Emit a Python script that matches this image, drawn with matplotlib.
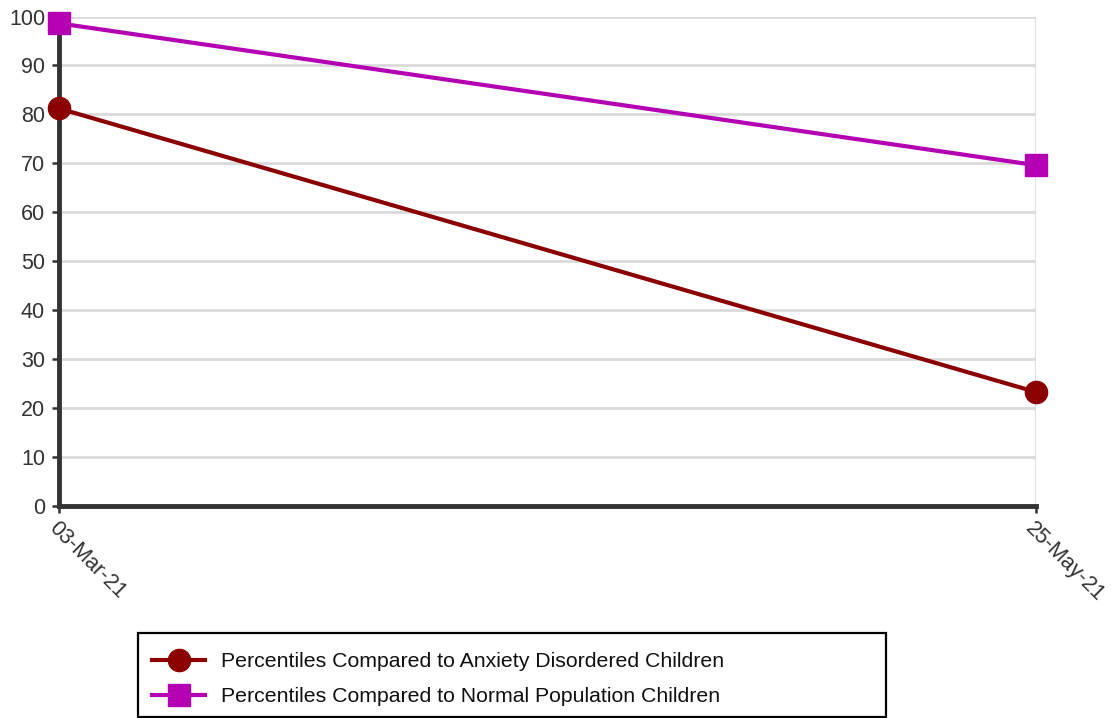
import matplotlib
matplotlib.use("Agg")
import matplotlib.pyplot as plt
from matplotlib.lines import Line2D
from matplotlib.patches import Rectangle

plt.rcParams['font.family'] = ['Liberation Sans', 'DejaVu Sans']

dates = ["03-Mar-21", "25-May-21"]
anxiety = [81.2, 23.2]
normal = [98.6, 69.6]
y_ticks = [0, 10, 20, 30, 40, 50, 60, 70, 80, 90, 100]
label_anx = "Percentiles Compared to Anxiety Disordered Children"
label_norm = "Percentiles Compared to Normal Population Children"

RED = "#8B0000"
MAG = "#B300B3"
DARK = "#333333"
W, H = 1113, 718

fig = plt.figure(figsize=(W/100, H/100), dpi=100)
ax = fig.add_axes([59/W, 1-505.5/H, (1036-59)/W, (505.5-16.5)/H])

x = list(range(len(dates)))
ax.plot(x, anxiety, color=RED, lw=3, marker='o', ms=16, clip_on=False, zorder=5)
ax.plot(x, normal, color=MAG, lw=3, marker='s', ms=15.5, clip_on=False, zorder=5)

ax.set_xlim(0, len(dates)-1)
ax.set_ylim(0, 100)
ax.set_yticks(y_ticks)
ax.set_xticks(x)
ax.set_xticklabels(dates, rotation=-45, ha='left', va='top', rotation_mode='anchor')

ax.grid(True, color='#DADADA', lw=2, zorder=0)
ax.set_axisbelow(True)
for s in ['top', 'right']:
    ax.spines[s].set_visible(False)
for s in ['left', 'bottom']:
    ax.spines[s].set_color(DARK)
    ax.spines[s].set_linewidth(3.5)
    ax.spines[s].set_capstyle('projecting')
ax.tick_params(axis='both', colors=DARK, labelcolor=DARK, labelsize=15.5, length=5, width=1.8, pad=5)
ax.tick_params(axis='x', pad=4)

# legend frame drawn manually to match the wide box
fig.patches.append(Rectangle((138/W, 1-717/H), (886-138)/W, (717-633)/H,
                             transform=fig.transFigure, fill=False,
                             edgecolor='black', lw=1.6))
handles = [Line2D([], [], color=RED, lw=3, marker='o', ms=16),
           Line2D([], [], color=MAG, lw=3, marker='s', ms=16)]
leg = fig.legend(handles, [label_anx, label_norm], loc='upper left',
                 bbox_to_anchor=(152/W, 1-652/H), fontsize=15.3,
                 frameon=False, handlelength=2.5, labelspacing=0.75,
                 borderpad=0.0, borderaxespad=0.0, handletextpad=0.75)
for t in leg.get_texts():
    t.set_color('#111111')

fig.savefig("out.png", dpi=100)
